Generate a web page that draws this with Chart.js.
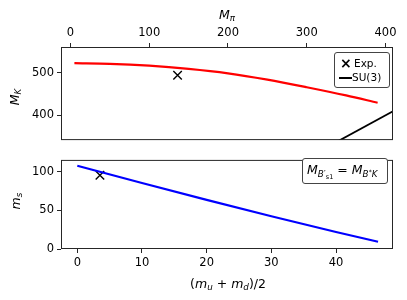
<!DOCTYPE html>
<html>
<head>
<meta charset="utf-8">
<script src="https://cdn.jsdelivr.net/npm/chart.js@4.4.0/dist/chart.umd.min.js"></script>
<style>
  html,body{margin:0;padding:0;background:#fff;}
  #wrap{position:relative;width:407px;height:300px;background:#fff;overflow:hidden;font-family:"DejaVu Sans",sans-serif;color:#000;}
  canvas{position:absolute;left:0;}
  .lbl{position:absolute;font-size:12.5px;line-height:1;white-space:nowrap;transform:translate(-50%,-50%);}
  .rot{transform:translate(-50%,-50%) rotate(-90deg);}
  sub{font-size:0.7em;vertical-align:-0.3em;line-height:0;}
  sup{font-size:0.7em;vertical-align:0.45em;line-height:0;}
  sub sub{font-size:0.75em;vertical-align:-0.35em;}
  .leg{position:absolute;border:1px solid #444;border-radius:3px;background:#fff;font-size:10.5px;line-height:1;}
</style>
</head>
<body>
<div id="wrap">
  <canvas id="c1" width="407" height="150" style="top:0"></canvas>
  <canvas id="c2" width="407" height="150" style="top:150px"></canvas>

  <div class="lbl" style="left:227px;top:15px;"><i>M</i><sub><i>π</i></sub></div>
  <div class="lbl rot" style="left:15px;top:97px;"><i>M</i><sub><i>K</i></sub></div>
  <div class="lbl rot" style="left:16px;top:201px;"><i>m</i><sub><i>s</i></sub></div>
  <div class="lbl" style="left:228px;top:284px;">(<i>m</i><sub><i>u</i></sub> + <i>m</i><sub><i>d</i></sub>)/2</div>

  <div class="leg" style="left:334px;top:52px;width:54px;height:34px;">
    <div style="position:absolute;left:5px;top:3px;font-size:14px;font-weight:bold;">×</div>
    <div style="position:absolute;left:19px;top:5px;">Exp.</div>
    <div style="position:absolute;left:4px;top:24px;width:13px;height:0;border-top:2px solid #000;"></div>
    <div style="position:absolute;left:17px;top:19px;">SU(3)</div>
  </div>

  <div class="leg" style="left:302px;top:158px;width:84px;height:24px;">
    <div style="position:absolute;left:4px;top:5px;font-size:12.5px;"><i>M</i><sub><i>B</i>′<sub>s1</sub></sub> = <i>M</i><sub><i>B</i><sup>*</sup><i>K</i></sub></div>
  </div>
</div>
<script>
// ---- data ----
const mpiVals = [5, 50, 100, 150, 200, 250, 300, 350, 390];
const mkVals  = [522.2, 520.7, 516.3, 508.9, 498.5, 483.7, 465.9, 446.7, 429.6];
const su3X = [300, 420];
const su3Y = [300, 420];
const expTopX = [136];
const expTopY = [494];
const mudVals = [0, 10, 20, 30, 40, 46.5];
const msVals  = [107.8, 85.4, 63.5, 42.4, 22.0, 9.4];
const expBotX = [3.5];
const expBotY = [95.3];
const topXTicks = [0, 100, 200, 300, 400];
const topYTicks = [400, 500];
const botXTicks = [0, 10, 20, 30, 40];
const botYTicks = [0, 50, 100];

const pts = (xs, ys) => xs.map((x, i) => ({x, y: ys[i]}));

const frame = {
  id: 'frame',
  afterDatasetsDraw(chart) {
    const {ctx, chartArea: a} = chart;
    ctx.save();
    ctx.strokeStyle = '#262626';
    ctx.lineWidth = 1;
    ctx.strokeRect(a.left + 0.5, a.top + 0.5, a.right - a.left - 1, a.bottom - a.top - 1);
    ctx.restore();
  }
};

const tickFont = {family: 'DejaVu Sans', size: 11.5};
function axis(extra, ticksArr, fitKey, fitVal) {
  return Object.assign({
    type: 'linear',
    border: {display: false},
    grid: {drawOnChartArea: false, drawTicks: true, tickLength: 4, color: '#262626', tickWidth: 1},
    ticks: {color: '#000', font: tickFont, padding: 3, maxRotation: 0, autoSkip: false},
    afterBuildTicks: s => { s.ticks = ticksArr.map(v => ({value: v})); },
    afterFit: s => { s[fitKey] = fitVal; }
  }, extra);
}

Chart.defaults.font.family = 'DejaVu Sans';
Chart.defaults.animation = false;

new Chart(document.getElementById('c1'), {
  type: 'line',
  data: {
    datasets: [
      {data: pts(mpiVals, mkVals), borderColor: '#ff0000', borderWidth: 2.2, pointRadius: 0, cubicInterpolationMode: 'monotone', clip: 0},
      {data: pts(su3X, su3Y), borderColor: '#000', borderWidth: 1.8, pointRadius: 0, clip: 0},
      {data: pts(expTopX, expTopY), showLine: false, pointStyle: 'crossRot', pointRadius: 6, borderColor: '#000', borderWidth: 1.4, clip: 0}
    ]
  },
  options: {
    responsive: false,
    devicePixelRatio: 1,
    layout: {padding: {left: 0, right: 14, top: 0, bottom: 5}},
    plugins: {legend: {display: false}, tooltip: {enabled: false}},
    scales: {
      x: axis({position: 'top', min: -12, max: 409.5}, topXTicks, 'height', 47),
      y: axis({position: 'left', min: 342.2, max: 560}, topYTicks, 'width', 61)
    }
  },
  plugins: [frame]
});

new Chart(document.getElementById('c2'), {
  type: 'line',
  data: {
    datasets: [
      {data: pts(mudVals, msVals), borderColor: '#0000ff', borderWidth: 2.2, pointRadius: 0, cubicInterpolationMode: 'monotone', clip: 0},
      {data: pts(expBotX, expBotY), showLine: false, pointStyle: 'crossRot', pointRadius: 6, borderColor: '#000', borderWidth: 1.4, clip: 0}
    ]
  },
  options: {
    responsive: false,
    devicePixelRatio: 1,
    layout: {padding: {left: 0, right: 14, top: 1, bottom: 0}},
    plugins: {legend: {display: false}, tooltip: {enabled: false}},
    scales: {
      x: axis({position: 'bottom', min: -2.52, max: 48.81}, botXTicks, 'height', 51),
      y: axis({position: 'left', min: 0, max: 115.3}, botYTicks, 'width', 61)
    }
  },
  plugins: [frame]
});
</script>
</body>
</html>
